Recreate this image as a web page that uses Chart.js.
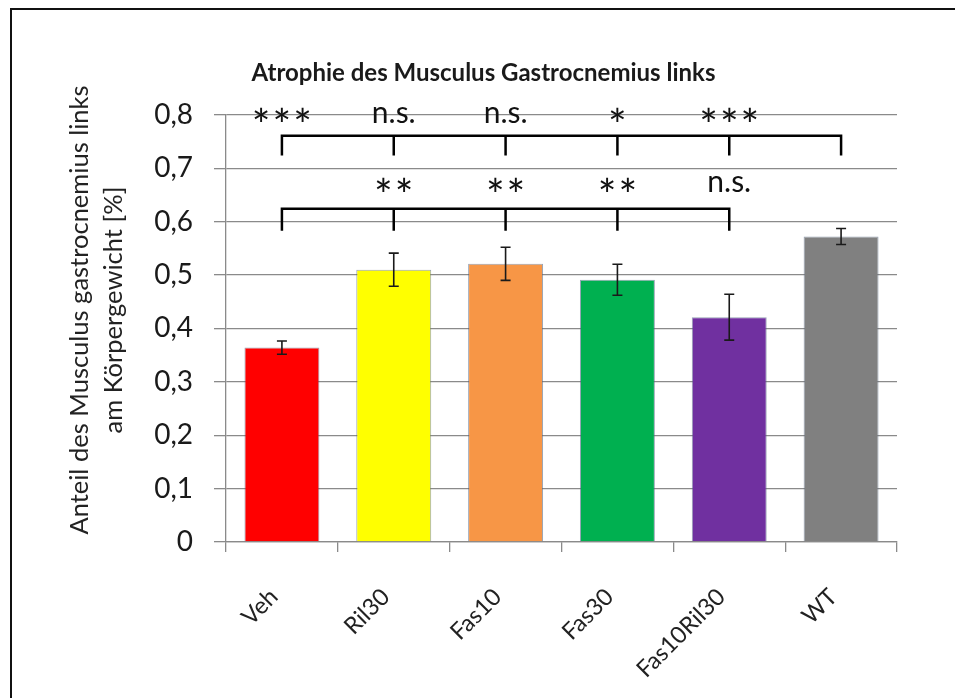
<!DOCTYPE html>
<html lang="de">
<head>
<meta charset="UTF-8">
<title>Atrophie des Musculus Gastrocnemius links</title>
<script src="https://cdn.jsdelivr.net/npm/chart.js"></script>
<style>
  html, body { margin: 0; padding: 0; background: #fff; overflow: hidden; }
  .frame {
    position: absolute; left: 10px; top: 8px; width: 980px; height: 720px;
    border-left: 2px solid #111; border-top: 2px solid #111;
  }
  #wrap { position: absolute; left: 0; top: 0; width: 955px; height: 698px; }
</style>
</head>
<body>
<div class="frame"></div>
<div id="wrap"><canvas id="atrophyChart" width="955" height="698"></canvas></div>
<script>
// group means and SEM (% of body weight)
const groups = ["Veh", "Ril30", "Fas10", "Fas30", "Fas10Ril30", "WT"];
const means = [0.364, 0.510, 0.521, 0.491, 0.421, 0.572];
const sem = [0.0125, 0.031, 0.031, 0.029, 0.043, 0.015];
const barColors = ["#ff0000", "#ffff00", "#f79646", "#00b050", "#7030a0", "#808080"];

const yTicks = [0, 0.1, 0.2, 0.3, 0.4, 0.5, 0.6, 0.7, 0.8];
const yTickLabels = ["0", "0,1", "0,2", "0,3", "0,4", "0,5", "0,6", "0,7", "0,8"];

// significance vs WT (groups 0..4) and vs Veh (groups 1..4)
const vsWtGroups = [0, 1, 2, 3, 4];
const vsWtLabels = ["***", "n.s.", "n.s.", "*", "***"];
const vsVehGroups = [1, 2, 3, 4];
const vsVehLabels = ["**", "**", "**", "n.s."];

// bracket heights in axis units
const wtBracket = { top: 0.761, foot: 0.724, text: 0.8 };
const vehBracket = { top: 0.624, foot: 0.583, text: 0.67 };

const FONT = "Lato, 'Open Sans', sans-serif";

const annotations = {
  id: "annotations",
  afterDatasetsDraw(chart) {
    const { ctx, scales: { x, y } } = chart;
    ctx.save();

    // error bars
    ctx.strokeStyle = "#1a1a1a";
    ctx.lineWidth = 1.6;
    means.forEach((m, i) => {
      const cx = x.getPixelForValue(i);
      const yHi = y.getPixelForValue(m + sem[i]);
      const yLo = y.getPixelForValue(m - sem[i]);
      ctx.beginPath();
      ctx.moveTo(cx, yHi); ctx.lineTo(cx, yLo);
      ctx.moveTo(cx - 5, yHi); ctx.lineTo(cx + 5, yHi);
      ctx.moveTo(cx - 5, yLo); ctx.lineTo(cx + 5, yLo);
      ctx.stroke();
    });

    // brackets
    ctx.strokeStyle = "#000";
    ctx.lineWidth = 2.5;
    const bracket = (from, to, feet, b) => {
      const yt = y.getPixelForValue(b.top);
      const yf = y.getPixelForValue(b.foot);
      ctx.beginPath();
      ctx.moveTo(x.getPixelForValue(from), yf);
      ctx.lineTo(x.getPixelForValue(from), yt);
      ctx.lineTo(x.getPixelForValue(to), yt);
      ctx.lineTo(x.getPixelForValue(to), yf);
      feet.forEach(i => {
        ctx.moveTo(x.getPixelForValue(i), yt);
        ctx.lineTo(x.getPixelForValue(i), yf);
      });
      ctx.stroke();
    };
    bracket(0, 5, [1, 2, 3, 4], wtBracket);
    bracket(0, 4, [1, 2, 3], vehBracket);

    // significance labels, glyphs centred on the given value
    ctx.fillStyle = "#111";
    ctx.textAlign = "center";
    ctx.textBaseline = "alphabetic";
    const label = (txt, i, v) => {
      const stars = txt.startsWith("*");
      ctx.font = (stars ? "44px " : "30px ") + FONT;
      ctx.letterSpacing = stars ? "2px" : "0px";
      const m = ctx.measureText(txt);
      const cy = y.getPixelForValue(v) + (m.actualBoundingBoxAscent - m.actualBoundingBoxDescent) / 2;
      ctx.fillText(txt, x.getPixelForValue(i) + (stars ? 1 : 0), cy);
    };
    vsWtLabels.forEach((t, k) => label(t, vsWtGroups[k], wtBracket.text));
    vsVehLabels.forEach((t, k) => label(t, vsVehGroups[k], vehBracket.text));
    ctx.letterSpacing = "0px";

    // y axis title on two lines
    ctx.font = "25.5px " + FONT;
    ctx.fillStyle = "#222";
    ctx.textBaseline = "middle";
    ctx.translate(80, 310);
    ctx.rotate(-Math.PI / 2);
    ctx.fillText("Anteil des Musculus gastrocnemius links", 0, 0);
    ctx.fillText("am Körpergewicht [%]", 0, 34);
    ctx.restore();
  }
};

new Chart(document.getElementById("atrophyChart"), {
  type: "bar",
  data: {
    labels: groups,
    datasets: [{
      data: means,
      backgroundColor: barColors,
      borderColor: "rgba(80, 100, 130, 0.6)",
      borderWidth: 1,
      categoryPercentage: 1,
      barPercentage: 0.67
    }]
  },
  options: {
    responsive: false,
    animation: false,
    layout: { padding: { left: 70, right: 58, top: 0, bottom: 0 } },
    plugins: {
      legend: { display: false },
      tooltip: { enabled: false },
      title: {
        display: true,
        text: "Atrophie des Musculus Gastrocnemius links",
        color: "#1a1a1a",
        font: { family: FONT, size: 24, weight: "bold" },
        padding: { top: 59, bottom: 27 }
      }
    },
    scales: {
      x: {
        afterFit: s => { s.height = 156; },
        grid: { drawOnChartArea: false, drawTicks: true, tickLength: 10, color: "#8a8a8a", lineWidth: 1.3 },
        border: { color: "#8a8a8a", width: 1.3 },
        ticks: {
          color: "#222",
          font: { family: FONT, size: 23.5 },
          minRotation: 45, maxRotation: 45,
          padding: 31,
          labelOffset: -8,
          autoSkip: false
        }
      },
      y: {
        min: 0, max: 0.8,
        afterFit: s => { s.width = 156; },
        afterBuildTicks: s => { s.ticks = yTicks.map(v => ({ value: v })); },
        grid: { color: "#8a8a8a", lineWidth: 1.3, tickLength: 12 },
        border: { color: "#8a8a8a", width: 1.3 },
        ticks: {
          color: "#1a1a1a",
          font: { family: FONT, size: 28 },
          padding: 21,
          callback: (v, i) => yTickLabels[i]
        }
      }
    }
  },
  plugins: [annotations]
});
</script>
</body>
</html>
